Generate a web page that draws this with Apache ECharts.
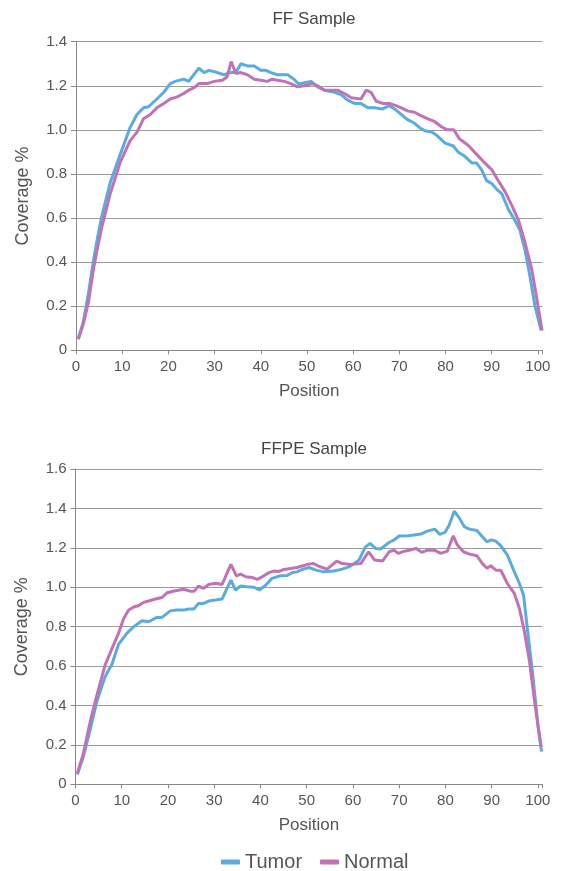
<!DOCTYPE html>
<html lang="en">
<head>
    <meta charset="UTF-8">
    <title>Coverage</title>
    <style>
        body { margin: 0; background: #fff; }
        #main { width: 564px; height: 871px; }
    </style>
</head>
<body>
    <div id="main"></div>
    <script src="https://cdn.jsdelivr.net/npm/echarts@6/dist/echarts.min.js"></script>
    <script>
        // [position, coverage]
        var ffTumor = [[0.5,0.054],[1.6,0.13],[2.7,0.26],[3.8,0.41],[4.7,0.515],[5.6,0.61],[7.4,0.76],[9.6,0.89],[11.7,1.01],[13.2,1.07],[14.6,1.10],[15.7,1.105],[17.5,1.14],[19,1.17],[20.4,1.21],[21.5,1.22],[23.3,1.23],[24.4,1.22],[25.5,1.25],[26.6,1.28],[27.7,1.26],[28.8,1.27],[30.6,1.26],[32,1.25],[33.5,1.26],[34.6,1.26],[35.7,1.30],[37.1,1.29],[38.6,1.29],[40,1.27],[41.1,1.27],[42.2,1.26],[43.6,1.25],[45.8,1.25],[47.2,1.23],[48.1,1.21],[48.7,1.21],[50.9,1.22],[52.3,1.195],[53.8,1.18],[56,1.17],[57.4,1.16],[58.8,1.135],[60.3,1.12],[61.7,1.12],[63.2,1.10],[64.6,1.10],[66.4,1.095],[67.8,1.11],[69.3,1.09],[70.4,1.07],[71.9,1.045],[73.3,1.03],[74.4,1.01],[75.5,0.996],[77,0.99],[78,0.977],[79.9,0.94],[81.7,0.927],[82.7,0.90],[84.2,0.88],[85.7,0.85],[86.7,0.85],[87.8,0.82],[88.9,0.77],[90,0.757],[91.1,0.73],[92.2,0.71],[93.6,0.64],[95,0.59],[96.1,0.546],[97.2,0.455],[98.3,0.334],[99.4,0.198],[100.7,0.09]];
        var ffNormal = [[0.5,0.05],[1.6,0.12],[2.7,0.22],[3.8,0.37],[4.7,0.47],[5.6,0.56],[7.4,0.71],[9.6,0.855],[11.7,0.95],[13.2,0.99],[14.6,1.05],[16.1,1.07],[17.5,1.10],[19,1.12],[20.4,1.14],[21.9,1.15],[23.3,1.165],[24.4,1.18],[25.5,1.19],[26.6,1.21],[28.4,1.21],[29.9,1.22],[31.7,1.225],[32.7,1.24],[33.6,1.31],[34.6,1.256],[35.7,1.26],[37.1,1.25],[38.6,1.23],[40,1.225],[41.4,1.22],[42.5,1.23],[43.6,1.225],[45.1,1.22],[46.5,1.21],[48,1.195],[49.4,1.20],[51.2,1.21],[52.3,1.20],[53.8,1.18],[55.2,1.18],[56.6,1.18],[58.1,1.165],[59.6,1.146],[61.7,1.14],[62.8,1.18],[63.9,1.17],[65,1.13],[66.4,1.12],[67.8,1.12],[69.3,1.11],[70.4,1.10],[71.9,1.085],[73.3,1.08],[74.8,1.063],[76.2,1.05],[77.7,1.037],[79.1,1.014],[80.4,1.00],[81.8,1.00],[83,0.96],[84.9,0.93],[86.7,0.89],[88.5,0.85],[90,0.82],[91.4,0.77],[92.9,0.72],[94.3,0.66],[95.8,0.59],[97.2,0.49],[98.7,0.365],[99.8,0.23],[100.9,0.09]];
        var ffpeTumor = [[0.4,0.05],[1.7,0.14],[3.2,0.28],[4.6,0.42],[6.4,0.546],[7.9,0.61],[9.3,0.71],[11.1,0.766],[12.6,0.80],[14.4,0.83],[15.8,0.825],[17.6,0.847],[18.7,0.847],[20.5,0.88],[21.9,0.884],[23.4,0.884],[24.5,0.89],[25.6,0.89],[26.6,0.918],[27.7,0.918],[28.8,0.93],[30.3,0.935],[31.7,0.94],[33.6,1.036],[34.6,0.986],[35.7,1.006],[37.1,1.003],[38.6,1.0],[39.8,0.986],[41.1,1.01],[42.5,1.045],[44.3,1.058],[45.8,1.06],[46.9,1.075],[47.9,1.078],[49,1.09],[50.5,1.1],[52,1.087],[53.7,1.078],[55.9,1.082],[57.7,1.092],[59.5,1.107],[61.3,1.138],[62.7,1.205],[63.7,1.222],[64.9,1.197],[66,1.194],[67.8,1.227],[68.9,1.24],[70,1.26],[71.8,1.261],[73.2,1.265],[74.7,1.27],[76.1,1.285],[77.7,1.295],[78.8,1.268],[79.9,1.278],[80.8,1.315],[81.9,1.386],[83,1.352],[84.1,1.307],[85.2,1.295],[86.8,1.288],[88,1.256],[89,1.231],[90,1.24],[90.9,1.234],[92,1.21],[93.4,1.163],[94.9,1.079],[96,1.019],[96.9,0.96],[97.8,0.774],[98.9,0.555],[100,0.30],[100.8,0.166]];
        var ffpeNormal = [[0.4,0.056],[1.7,0.157],[3.2,0.32],[4.6,0.45],[6.4,0.605],[7.9,0.69],[9.3,0.766],[10.4,0.84],[11.5,0.884],[12.6,0.90],[13.6,0.906],[14.7,0.923],[15.8,0.93],[17.3,0.94],[18.7,0.948],[19.8,0.972],[21.6,0.982],[23.4,0.99],[24.8,0.98],[25.7,0.98],[26.6,1.006],[27.7,0.994],[28.8,1.014],[30.3,1.02],[31.7,1.014],[33.6,1.116],[34.8,1.058],[35.7,1.067],[36.8,1.053],[38.2,1.05],[39.3,1.04],[40.4,1.053],[41.8,1.074],[42.9,1.082],[44,1.08],[45.1,1.09],[46.5,1.095],[47.9,1.1],[49.4,1.11],[50.1,1.116],[51.5,1.12],[52.9,1.104],[54.4,1.092],[56.5,1.133],[57.7,1.12],[59.5,1.116],[61.7,1.12],[63.4,1.18],[64.7,1.138],[66.4,1.133],[67.8,1.18],[68.9,1.188],[69.8,1.172],[71.1,1.183],[72.2,1.188],[73.7,1.197],[74.9,1.177],[76.1,1.188],[77.6,1.188],[79,1.172],[80.4,1.183],[81.7,1.261],[82.6,1.214],[83.9,1.18],[85.2,1.168],[86.8,1.16],[88,1.12],[89,1.096],[89.8,1.109],[90.9,1.087],[92,1.085],[93.4,1.019],[94.9,0.969],[96,0.893],[97.1,0.774],[98.2,0.622],[99.3,0.419],[100.7,0.19]];

        var titles = ['FF Sample', 'FFPE Sample'];
        var yMax = [1.4, 1.6];
        var seriesNames = ['Tumor', 'Normal'];

        var blue = '#59abe0';
        var purple = '#c271b6';
        var textCol = '#555';
        var font = 'Liberation Sans';

        function xAxisFor(i) {
            return {
                gridIndex: i, type: 'value', min: 0, max: 101, interval: 10,
                name: 'Position', nameLocation: 'middle', nameGap: 33,
                nameTextStyle: { color: textCol, fontSize: 17, fontFamily: font },
                axisLine: { lineStyle: { color: '#888' } },
                axisTick: { show: true, length: 4, lineStyle: { color: '#888' } },
                axisLabel: { color: textCol, fontSize: 15, fontFamily: font, margin: 9,
                    formatter: function (v) { return v > 100 ? '' : v; } },
                splitLine: { show: false }
            };
        }
        function yAxisFor(i) {
            return {
                gridIndex: i, type: 'value', min: 0, max: yMax[i], interval: 0.2,
                name: 'Coverage %', nameLocation: 'middle', nameGap: 44,
                nameTextStyle: { color: textCol, fontSize: 18, fontFamily: font },
                axisLine: { show: true, lineStyle: { color: '#888' } },
                axisTick: { show: true, length: 5, lineStyle: { color: '#888' } },
                axisLabel: { color: textCol, fontSize: 15, fontFamily: font, margin: 9,
                    formatter: function (v) { return v === 0 ? '0' : v.toFixed(1); } },
                splitLine: { lineStyle: { color: '#9c9c9c' } }
            };
        }
        function lineSeries(name, i, data, color) {
            return {
                name: name, type: 'line', xAxisIndex: i, yAxisIndex: i,
                data: data, showSymbol: false, symbol: 'none',
                lineStyle: { width: 3, color: color }, itemStyle: { color: color }
            };
        }

        var chart = echarts.init(document.getElementById('main'));
        chart.setOption({
            animation: false,
            title: [
                { text: titles[0], left: 309, top: 6, textAlign: 'center',
                  textStyle: { color: '#444', fontSize: 17, fontWeight: 'normal', fontFamily: font } },
                { text: titles[1], left: 309, top: 436, textAlign: 'center',
                  textStyle: { color: '#444', fontSize: 17, fontWeight: 'normal', fontFamily: font } }
            ],
            legend: {
                data: seriesNames, left: 216, top: 847, icon: 'roundRect',
                itemWidth: 19, itemHeight: 5, itemGap: 18,
                textStyle: { color: textCol, fontSize: 20, fontFamily: font }
            },
            grid: [
                { left: 76, right: 21.5, top: 41.7, bottom: 520.7 },
                { left: 75.5, right: 21.5, top: 469, bottom: 86.7 }
            ],
            xAxis: [xAxisFor(0), xAxisFor(1)],
            yAxis: [yAxisFor(0), yAxisFor(1)],
            series: [
                lineSeries('Tumor', 0, ffTumor, blue),
                lineSeries('Normal', 0, ffNormal, purple),
                lineSeries('Tumor', 1, ffpeTumor, blue),
                lineSeries('Normal', 1, ffpeNormal, purple)
            ]
        });
    </script>
</body>
</html>
